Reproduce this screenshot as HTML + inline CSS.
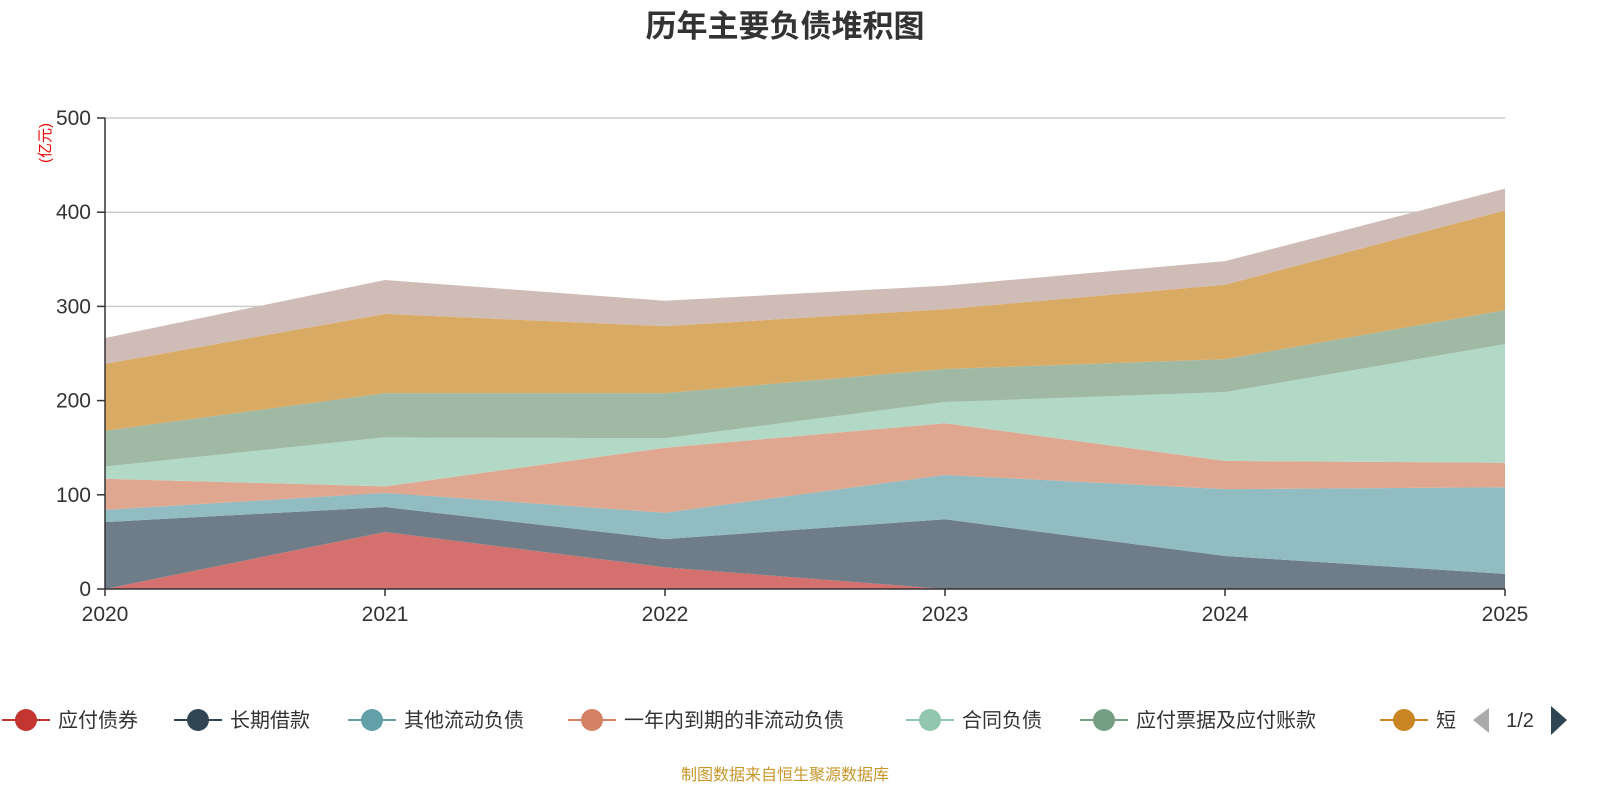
<!DOCTYPE html>
<html><head><meta charset="utf-8">
<style>
body{margin:0;width:1600px;height:800px;background:#fff;overflow:hidden;font-family:"Liberation Sans","Noto Sans CJK SC",sans-serif;}
svg text{font-family:"Liberation Sans","Noto Sans CJK SC",sans-serif;}
</style></head><body>
<svg id="chart" width="1600" height="800" xmlns="http://www.w3.org/2000/svg">
<text x="785" y="37" text-anchor="middle" font-size="31" font-weight="bold" fill="#333">历年主要负债堆积图</text>
<text transform="translate(50,143) rotate(-90)" text-anchor="middle" font-size="15" fill="#e00">(亿元)</text>
<g id="grid"></g><g id="areas"></g><g id="axes"></g><g id="legend"></g>
<text x="785" y="780" text-anchor="middle" font-size="16" fill="#c8962a">制图数据来自恒生聚源数据库</text>
</svg>
<script>
const years=["2020","2021","2022","2023","2024","2025"];
const yTicks=[0,100,200,300,400,500];
const seriesNames=["应付债券","长期借款","其他流动负债","一年内到期的非流动负债","合同负债","应付票据及应付账款","短期借款","其他"];
const s1=[0,60.5,23,0,0,0];
const s2=[71,26.5,30,74,35,16];
const s3=[13,15,28,47,71,92];
const s4=[33,7,69,55,30,26];
const s5=[13,52,10,22.5,73,126];
const s6=[38,47,48,35,35,36];
const s7=[71,84,71,63.5,79,106];
const s8=[27.5,36,27,25,25,23];
const seriesData=[s1,s2,s3,s4,s5,s6,s7,s8];
const fills=["#d4716e","#6e7d87","#91bcc2","#e0a790","#b2d9c6","#9fb9a5","#d9aa64","#d0bcb6"];
const lineCols=["#c23531","#2f4554","#61a0a8","#d48265","#91c7ae","#749f83","#ca8622","#bda29a"];
const X0=105,X1=1505,Y0=589,Y1=118;
const xs=i=>X0+(X1-X0)*i/(years.length-1);
const ys=v=>Y0-(Y0-Y1)*v/500;
const NS="http://www.w3.org/2000/svg";
function mk(t,a,p){const e=document.createElementNS(NS,t);for(const k in a)e.setAttribute(k,a[k]);p.appendChild(e);return e;}
const grid=document.getElementById('grid'),areas=document.getElementById('areas'),axes=document.getElementById('axes'),leg=document.getElementById('legend');
yTicks.forEach(t=>{
 if(t>0){const l=mk('line',{x1:X0,x2:X1,y1:ys(t),y2:ys(t),stroke:'#ccc','stroke-width':1.5},grid);
 
 }
 const tk=mk('line',{x1:X0-8,x2:X0,y1:ys(t),y2:ys(t),stroke:'#333','stroke-width':1.5},axes);
 
 
 const tx=mk('text',{x:X0-14,y:ys(t)+7,'text-anchor':'end','font-size':21,fill:'#333'},axes);tx.textContent=t;
 
 
});
let base=years.map(()=>0);
seriesData.forEach((s,k)=>{
 const top=s.map((v,i)=>base[i]+v);
 let d='M'+years.map((_,i)=>xs(i)+','+ys(top[i])).join('L');
 for(let i=years.length-1;i>=0;i--)d+='L'+xs(i)+','+ys(base[i]);
 const p=mk('path',{d:d+'Z',fill:fills[k],stroke:'none'},areas);
 
 
 base=top;
});
const ax=mk('line',{x1:X0,x2:X1,y1:Y0,y2:Y0,stroke:'#333','stroke-width':1.5},axes);


const ay=mk('line',{x1:X0,x2:X0,y1:Y1,y2:Y0,stroke:'#333','stroke-width':1.5},axes);


years.forEach((y,i)=>{
 const tk=mk('line',{x1:xs(i),x2:xs(i),y1:Y0,y2:Y0+7,stroke:'#333','stroke-width':1.5},axes);
 
 
 const t=mk('text',{x:xs(i),y:Y0+32,'text-anchor':'middle','font-size':21,fill:'#333'},axes);t.textContent=y;
 
 
});
const legX=[2,174,348,568,906,1080,1380];
const legLabels=["应付债券","长期借款","其他流动负债","一年内到期的非流动负债","合同负债","应付票据及应付账款","短"];
legLabels.forEach((n,k)=>{
 const g=mk('g',{},leg);
 
 
 const x=legX[k];
 mk('line',{x1:x,x2:x+48,y1:720,y2:720,stroke:lineCols[k],'stroke-width':2},g);
 mk('circle',{cx:x+24,cy:720,r:11,fill:lineCols[k]},g);
 const t=mk('text',{x:x+56,y:727,'font-size':20,fill:'#333'},g);t.textContent=n;
});
const pl=mk('path',{d:'M1489,708L1473,720L1489,733Z',fill:'#aaa'},leg);


const pt=mk('text',{x:1520,y:727,'text-anchor':'middle','font-size':20,fill:'#333'},leg);pt.textContent='1/2';


const pr=mk('path',{d:'M1551,706L1567,720L1551,735Z',fill:'#2f4554'},leg);


</script>
</body></html>
